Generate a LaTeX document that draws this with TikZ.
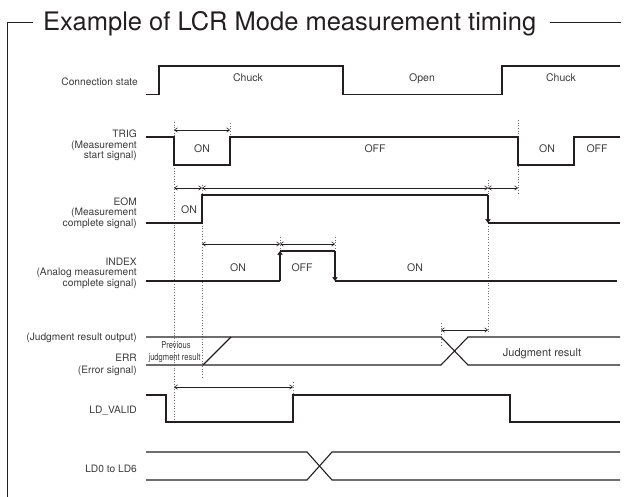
\documentclass[tikz,border=0pt]{standalone}
\usepackage{graphicx}
\usepackage{fontspec}
\setmainfont{TeX Gyre Heros}
\usetikzlibrary{arrows.meta}
\definecolor{ink}{HTML}{231F20}
\definecolor{txt}{HTML}{3A3A3A}
\begin{document}
\begin{tikzpicture}[x=1pt,y=-1pt,
  sig/.style={draw=ink,line width=1.1pt},
  frm/.style={draw=ink,line width=0.8pt},
  dim/.style={draw=ink,line width=0.6pt,{Straight Barb[length=3pt,width=4.5pt]}-{Straight Barb[length=3pt,width=4.5pt]}},
  guide/.style={draw=black!55,dotted,line width=0.7pt},
  lbl/.style={anchor=base east,inner sep=0pt,text=txt,font=\fontsize{10.2}{12}\selectfont},
  st/.style={anchor=base,inner sep=0pt,text=txt,font=\fontsize{10.5}{12}\selectfont},
  sml/.style={anchor=base,inner sep=0pt,text=txt,font=\fontsize{9.5}{11}\selectfont},
  edgearrow/.style={sig,-{Straight Barb[length=3pt,width=4.5pt]}}
]
\useasboundingbox (0,0) rectangle (634,497);
% frame and title
\node[anchor=base west,inner sep=0pt,text=ink,font=\fontsize{25.5}{30}\selectfont] (title) at (43,31) {Example of LCR Mode measurement timing};
\coordinate (fbot) at (7,497);
\coordinate (ftop) at (7,22.7);
\coordinate (fl) at (33,22.7);
\coordinate (fr1) at (550,22.7);
\coordinate (fr2) at (621,22.7);
\draw[frm] (fbot) -- (ftop) -- (fl);
\draw[frm] (fr1) -- (fr2);

% guides
\draw[guide] (174,122) -- (174,423);
\draw[guide] (202,185) -- (202,377);
\draw[guide] (230,123) -- (230,137);
\draw[guide] (518,120) -- (518,193);
\draw[guide] (488,180) -- (488,333);
\draw[guide] (280,237) -- (280,251);
\draw[guide] (335,237) -- (335,251);
\draw[guide] (441,323) -- (441,345);
\draw[guide] (293,382) -- (293,395);

% Connection state
\node[lbl] (cs) at (138,86) {Connection state};
\draw[sig] (146,94.3) -- (159,94.3) -- (159,66) -- (343,66) -- (343,94.3) -- (502,94.3) -- (502,66) -- (620,66);
\node[st] (cs1) at (248,81.5) {Chuck};
\node[st] (cs2) at (422,81.5) {Open};
\node[st] (cs3) at (561,81.5) {Chuck};

% TRIG
\node[lbl] (trig1) at (137,138) {TRIG};
\node[lbl] (trig2) at (137,148.3) {(Measurement};
\node[lbl] (trig3) at (137,158.6) {start signal)};
\draw[sig] (146,137) -- (174,137) -- (174,165) -- (230,165) -- (230,137) -- (518,137) -- (518,165) -- (574,165) -- (574,137) -- (620,137);
\node[st] (t1) at (202,153) {ON};
\node[st] (t2) at (375,153) {OFF};
\node[st] (t3) at (547,153) {ON};
\node[st] (t4) at (597,153) {OFF};
\draw[dim] (174,130) -- (230,130);

% EOM
\node[lbl] (eom1) at (137,205) {EOM};
\node[lbl] (eom2) at (137,215.5) {(Measurement};
\node[lbl] (eom3) at (137,226) {complete signal)};
\draw[sig] (146,223) -- (202,223) -- (202,195) -- (488,195);
\draw[edgearrow] (488,195) -- (488,223);
\draw[sig] (488,223) -- (620,223);
\node[st] (e1) at (189,214) {ON};
\draw[dim] (174,188) -- (202,188);
\draw[dim] (202,188) -- (488,188);
\draw[dim] (488,188) -- (518,188);

% INDEX
\node[lbl] (ix1) at (137,265) {INDEX};
\node[lbl] (ix2) at (137,275.8) {(Analog measurement};
\node[lbl] (ix3) at (137,286.4) {complete signal)};
\draw[sig] (146,281) -- (280,281);
\draw[edgearrow] (280,281) -- (280,251);
\draw[sig] (280,251) -- (335,251);
\draw[edgearrow] (335,251) -- (335,281);
\draw[sig] (335,281) -- (617,281);
\node[st] (i1) at (238,271) {ON};
\node[st] (i2) at (302,271) {OFF};
\node[st] (i3) at (415,271) {ON};
\draw[dim] (202,244) -- (280,244);
\draw[dim] (280,244) -- (335,244);

% Judgment / ERR
\node[lbl] (j1) at (137,340) {(Judgment result output)};
\node[lbl] (j2) at (137,361.7) {ERR};
\node[lbl] (j3) at (137,373.5) {(Error signal)};
\draw[sig] (146,337) -- (441,337) -- (468,365) -- (620,365);
\draw[sig] (146,365) -- (441,365) -- (468,337) -- (620,337);
\draw[sig] (203,365) -- (231,337);
\node[sml] (p1) at (176,348.5) {\scalebox{0.8}[1]{Previous}};
\node[sml] (p2) at (174.5,360) {\scalebox{0.8}[1]{judgment result}};
\node[st,font=\fontsize{11}{13}\selectfont] (jr) at (542,356) {Judgment result};
\draw[dim] (441,330) -- (488,330);

% LD_VALID
\node[lbl] (ldv) at (137,413) {LD\_VALID};
\draw[sig] (146,395) -- (166,395) -- (166,422) -- (293,422) -- (293,395) -- (510,395) -- (510,422) -- (620,422);
\draw[dim] (174,387) -- (293,387);

% LD0 to LD6
\node[lbl] (ld) at (137,472) {LD0 to LD6};
\draw[sig] (146,452) -- (307,452) -- (332,480) -- (620,480);
\draw[sig] (146,480) -- (307,480) -- (332,452) -- (620,452);
\end{tikzpicture}
\end{document}
